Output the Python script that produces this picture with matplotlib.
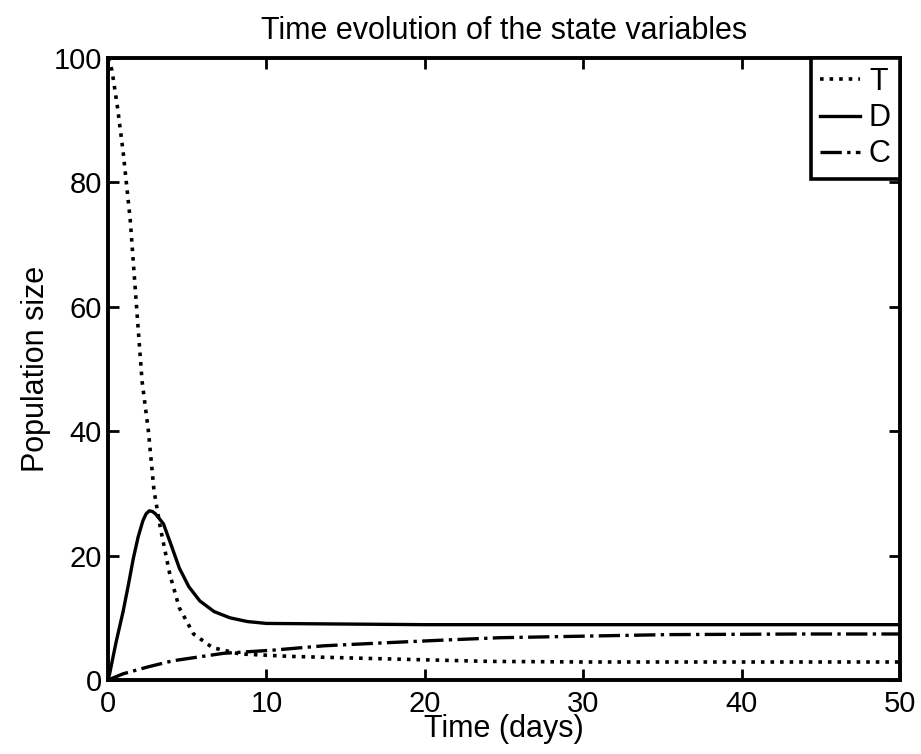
import numpy as np
import matplotlib
matplotlib.use("Agg")
import matplotlib.pyplot as plt

plt.rcParams['font.family'] = ['Liberation Sans', 'DejaVu Sans']

t_T = [0, 0.25, 0.6, 0.95, 1.4, 1.8, 2.15, 2.55, 2.9, 3.3, 3.9, 4.5, 5.4, 6.6, 8.3, 11.5, 17.6, 24, 30, 40, 50]
T = [100, 98, 92, 85, 74, 60, 48, 40, 30.5, 24.5, 17, 11.6, 7.4, 5.2, 4.2, 3.8, 3.4, 3.0, 2.9, 2.9, 2.9]

t_D = [0, 0.1, 0.5, 0.95, 1.3, 1.6, 1.9, 2.2, 2.4, 2.6, 2.8, 3.0, 3.5, 4.0, 4.5, 5.1, 5.8, 6.7, 7.7, 8.8, 10, 15, 20, 30, 40, 50]
D = [0, 1, 6, 11, 15.5, 19.6, 23.0, 25.6, 26.7, 27.2, 27.1, 26.7, 25.1, 21.6, 18, 15.0, 12.7, 11.0, 10.0, 9.4, 9.1, 9.0, 8.9, 8.9, 8.9, 8.9]

t_C = [0, 0.95, 2.5, 4.1, 7.3, 10.4, 13.6, 17.6, 21, 24.7, 31, 35.3, 43.7, 50]
C = [0, 1.0, 2.1, 3.1, 4.3, 4.8, 5.5, 6.0, 6.4, 6.8, 7.1, 7.3, 7.4, 7.4]

fig = plt.figure(figsize=(9.21, 7.54), dpi=100)
ax = fig.add_axes([0.1173, 0.0981, 0.86, 0.825])

ax.plot(t_T, T, color='black', linestyle=':', linewidth=2.6, label='T')
ax.plot(t_D, D, color='black', linestyle='-', linewidth=2.4, label='D')
ax.plot(t_C, C, color='black', linestyle='-.', linewidth=2.4, label='C')

ax.set_xlim(0, 50)
ax.set_ylim(0, 100)
ax.set_xticks([0, 10, 20, 30, 40, 50])
ax.set_yticks([0, 20, 40, 60, 80, 100])
ax.tick_params(direction='in', length=8, width=2, labelsize=21, top=True, right=True)
ax.tick_params(axis='x', pad=7)
ax.tick_params(axis='y', pad=4.5)
for s in ax.spines.values():
    s.set_linewidth(2.8)

ax.set_title('Time evolution of the state variables', fontsize=22, pad=14)
ax.set_xlabel('Time (days)', fontsize=22, labelpad=-3)
ax.set_ylabel('Population size', fontsize=22, labelpad=2)

leg = ax.legend(loc='upper right', fontsize=22, fancybox=False, edgecolor='black',
                framealpha=1, borderaxespad=0, handlelength=1.3, handletextpad=0.3,
                labelspacing=0.2, borderpad=0.3)
leg.get_frame().set_linewidth(2.6)

fig.savefig('out.png', dpi=100)
